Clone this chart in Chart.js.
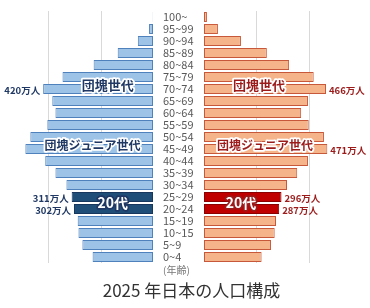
<!DOCTYPE html>
<html>
<head>
<meta charset="utf-8">
<script src="https://cdn.jsdelivr.net/npm/chart.js@4"></script>
<style>
  body { margin: 0; background: #fff; width: 370px; height: 308px; overflow: hidden; position: relative; font-family: "Noto Sans CJK JP", "Noto Sans", sans-serif; }
  #left { position: absolute; left: 0; top: 0; }
  #right { position: absolute; left: 155px; top: 0; }
  #unit { position: absolute; left: 163px; top: 262px; font-size: 10px; color: #777; }
  #title { position: absolute; left: 0; width: 383px; top: 277px; text-align: center; font-size: 17px; color: #333; }
</style>
</head>
<body>
<div id="left"><canvas id="maleChart" width="153" height="270"></canvas></div>
<div id="right"><canvas id="femaleChart" width="215" height="270"></canvas></div>
<div id="unit">(年齢)</div>
<div id="title">2025 年日本の人口構成</div>
<script>
const ages = ['100~','95~99','90~94','85~89','80~84','75~79','70~74','65~69','60~64','55~59','50~54','45~49','40~44','35~39','30~34','25~29','20~24','15~19','10~15','5~9','0~4'];
// 万人
const male = [1, 15, 58, 135, 227, 346, 420, 385, 373, 404, 469, 488, 412, 373, 331, 311, 302, 288, 285, 270, 231];
const female = [11, 53, 141, 240, 325, 419, 466, 397, 371, 400, 458, 471, 397, 356, 317, 296, 287, 275, 270, 256, 220];
const twenties = [15, 16];
const maleNoteIdx = [6, 15, 16];
const femaleNoteIdx = [6, 11, 15, 16];
const gridVals = [200, 400];

const jp = '"Noto Sans CJK JP", "Noto Sans", sans-serif';

function outlined(ctx, text, x, y, fill, stroke, size) {
    ctx.save();
    ctx.font = 'bold ' + size + 'px ' + jp;
    ctx.textAlign = 'center';
    ctx.textBaseline = 'middle';
    ctx.lineJoin = 'round';
    ctx.lineWidth = 3.5;
    ctx.strokeStyle = stroke;
    ctx.strokeText(text, x, y);
    ctx.fillStyle = fill;
    ctx.fillText(text, x, y);
    ctx.restore();
}

// light vertical guide lines at 200 / 400 万人
const guideLines = {
    id: 'guides',
    beforeDatasetsDraw(chart) {
        const ctx = chart.ctx, a = chart.chartArea, xs = chart.scales.x;
        ctx.save();
        ctx.strokeStyle = '#d9d9d9';
        ctx.lineWidth = 1;
        gridVals.forEach(v => {
            const x = Math.round(xs.getPixelForValue(v)) + 0.5;
            ctx.beginPath();
            ctx.moveTo(x, a.top);
            ctx.lineTo(x, a.bottom);
            ctx.stroke();
        });
        ctx.restore();
    }
};

let makeNotes = (side) => ({
    id: 'notes' + side,
    afterDatasetsDraw(chart) {
        const ctx = chart.ctx;
        const xs = chart.scales.x, ys = chart.scales.y;
        const vals = side === 'L' ? male : female;
        const idx = side === 'L' ? maleNoteIdx : femaleNoteIdx;
        const dark = side === 'L' ? '#1f3864' : '#9b1b1b';
        ctx.save();
        ctx.font = 'bold 9.5px ' + jp;
        ctx.fillStyle = dark;
        ctx.textBaseline = 'middle';
        idx.forEach(i => {
            const px = xs.getPixelForValue(vals[i]);
            const py = ys.getPixelForValue(i);
            if (side === 'L') { ctx.textAlign = 'right'; ctx.fillText(vals[i] + '万人', px - 3, py + 1); }
            else { ctx.textAlign = 'left'; ctx.fillText(vals[i] + '万人', px + 3, py + 1); }
        });
        ctx.restore();
        const mid = (a, b) => (ys.getPixelForValue(a) + ys.getPixelForValue(b)) / 2;
        if (side === 'L') {
            outlined(ctx, '団塊世代', xs.getPixelForValue(173), mid(5, 6) + 2, dark, '#fff', 13);
            outlined(ctx, '団塊ジュニア世代', xs.getPixelForValue(231), mid(10, 11) + 2, dark, '#fff', 12);
            outlined(ctx, '20代', xs.getPixelForValue(154), mid(15, 16), '#fff', '#1f3864', 14);
        } else {
            outlined(ctx, '団塊世代', xs.getPixelForValue(210), mid(5, 6) + 2, dark, '#fff', 13);
            outlined(ctx, '団塊ジュニア世代', xs.getPixelForValue(233), mid(10, 11) + 2, dark, '#fff', 12);
            outlined(ctx, '20代', xs.getPixelForValue(141), mid(15, 16), '#fff', '#9b1b1b', 14);
        }
    }
});

let buildChart = (id, vals, side) => {
    const isL = side === 'L';
    const ctx = document.getElementById(id).getContext('2d');
    return new Chart(ctx, {
        type: 'bar',
        data: {
            labels: ages,
            datasets: [{
                data: vals,
                backgroundColor: ages.map((a, i) => twenties.includes(i) ? (isL ? '#1f4e79' : '#c00000') : (isL ? '#9dc3e6' : '#f6b48a')),
                borderColor: ages.map((a, i) => twenties.includes(i) ? (isL ? '#17375e' : '#8b0000') : (isL ? '#4f81bd' : '#c8583a')),
                borderWidth: 1,
                borderSkipped: false,
                barPercentage: 0.84,
                categoryPercentage: 1
            }]
        },
        options: {
            indexAxis: 'y',
            responsive: false,
            animation: false,
            layout: { padding: isL ? { top: 11, bottom: 7, left: 0, right: 0 } : { top: 11, bottom: 7, left: 8, right: 0 } },
            scales: {
                x: {
                    reverse: isL,
                    min: 0,
                    max: isL ? 585 : 634,
                    ticks: { display: false },
                    grid: { display: false, drawTicks: false },
                    border: { display: false },
                    afterFit: s => { s.height = 0; }
                },
                y: {
                    position: isL ? 'right' : 'left',
                    grid: { display: false, drawTicks: false },
                    border: { display: isL, color: '#d0d0d0' },
                    ticks: {
                        display: !isL,
                        autoSkip: false,
                        crossAlign: 'far',
                        color: '#595959',
                        padding: 0,
                        font: { size: 11, family: jp }
                    },
                    afterFit: s => { s.width = isL ? 0 : 41; }
                }
            },
            plugins: {
                legend: { display: false },
                tooltip: { enabled: false }
            }
        },
        plugins: [guideLines, makeNotes(side)]
    });
};

buildChart('maleChart', male, 'L');
buildChart('femaleChart', female, 'R');
</script>
</body>
</html>
